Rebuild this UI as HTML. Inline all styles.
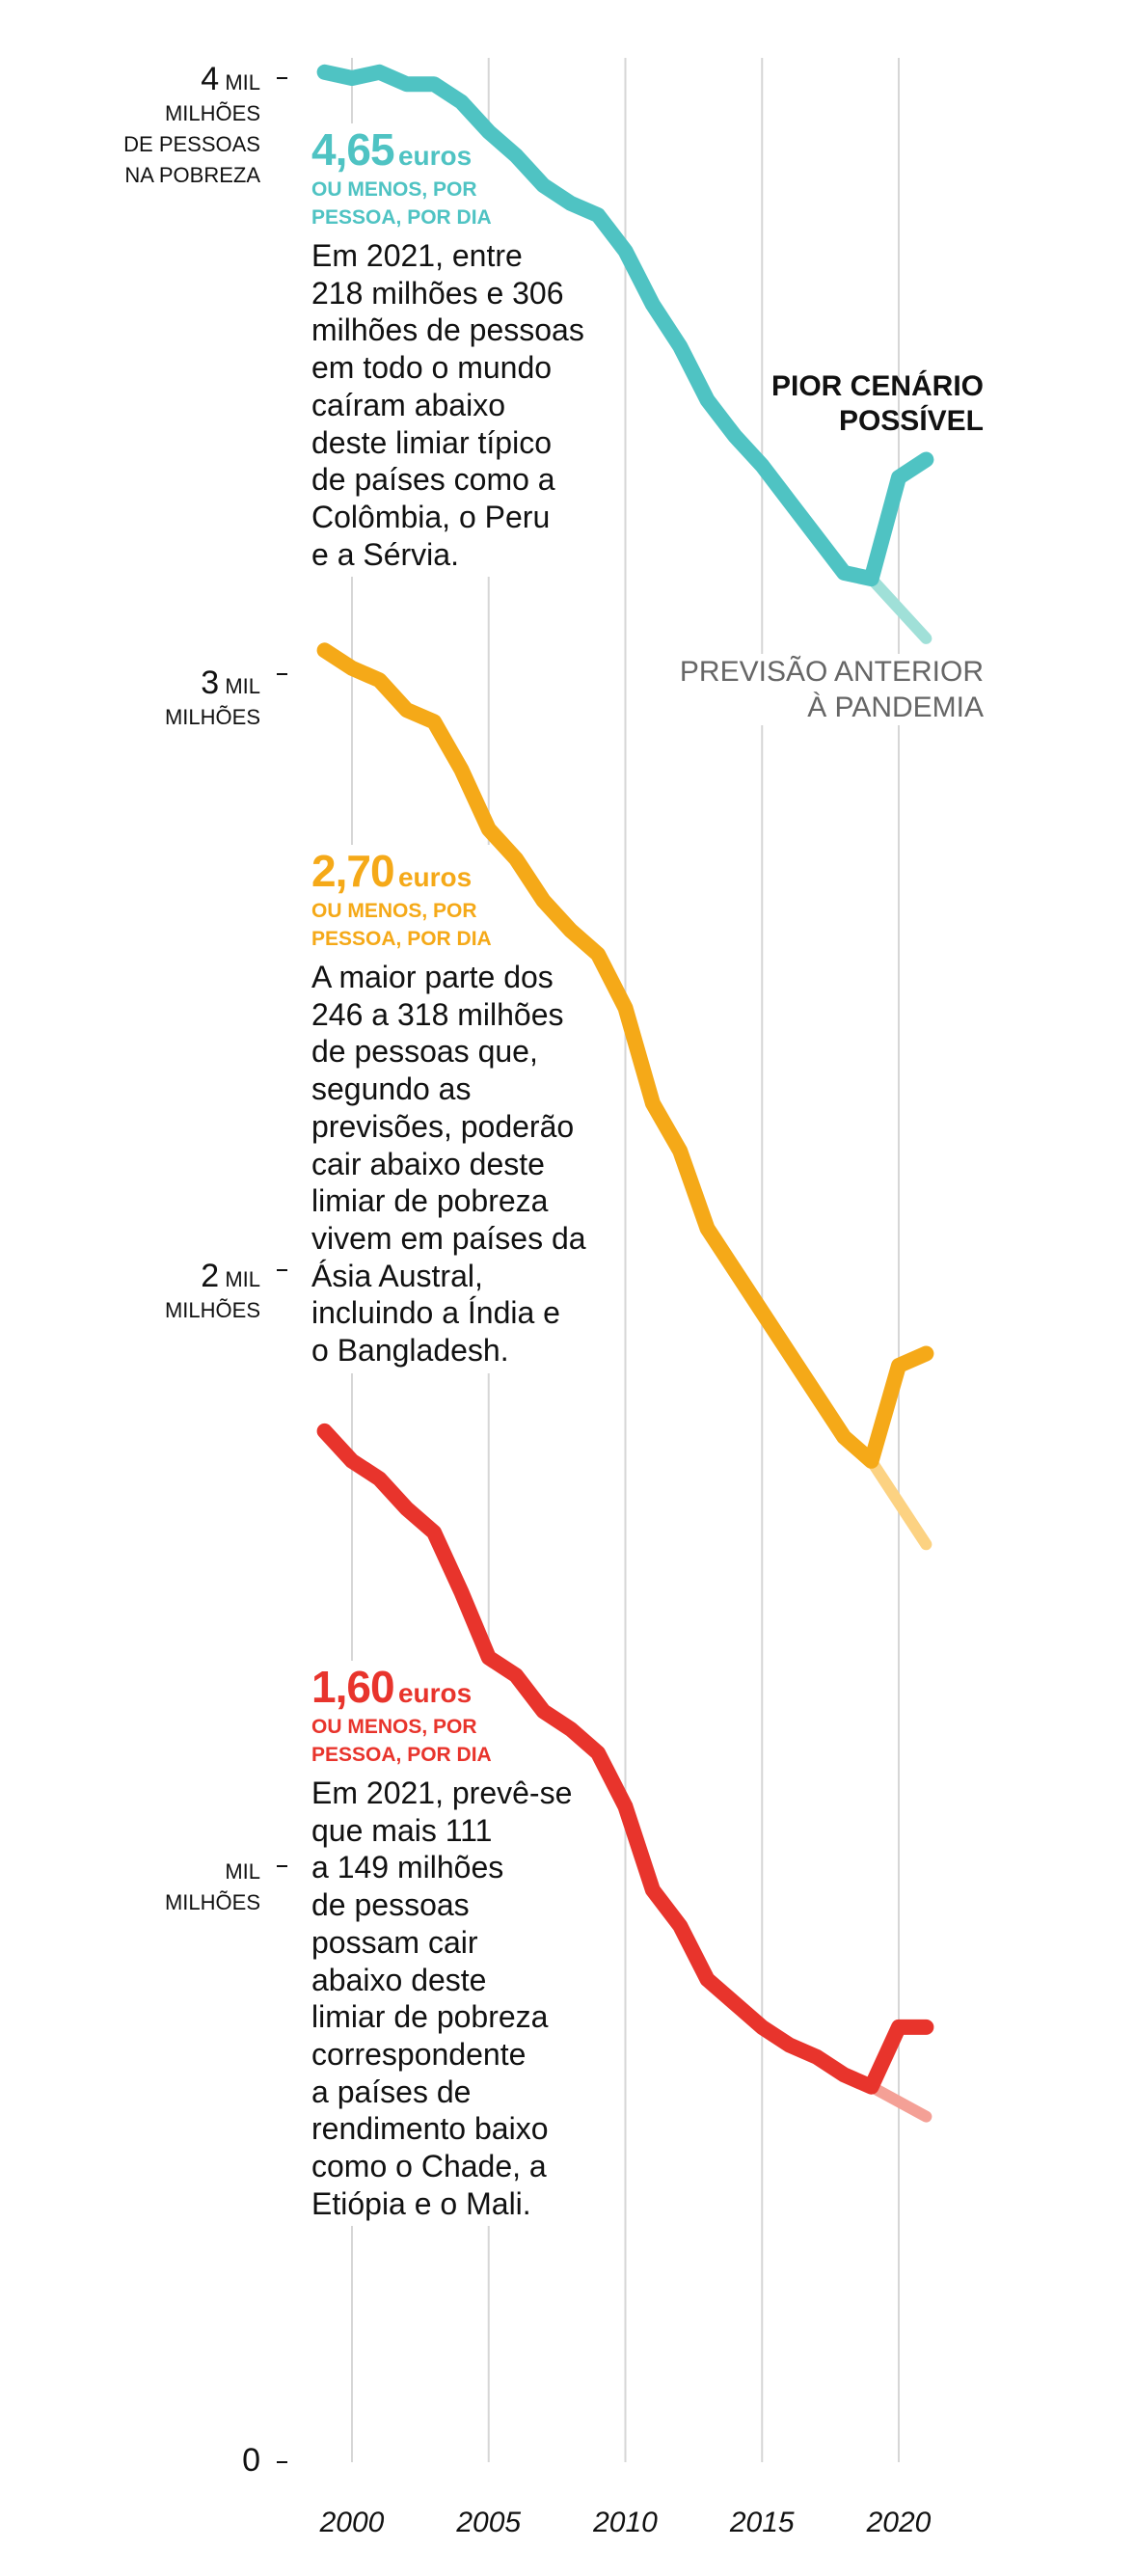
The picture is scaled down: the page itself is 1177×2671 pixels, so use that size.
<!DOCTYPE html>
<html><head><meta charset="utf-8">
<style>
body{margin:0;background:#fff;}
#wrap{position:relative;width:1177px;height:2671px;overflow:hidden;background:#fff;font-family:"Liberation Sans",sans-serif;}
svg{position:absolute;left:0;top:0;}
.blk{position:absolute;left:323px;background:#fff;padding:0 6px 4px 0;}
.big{font-weight:bold;font-size:46px;letter-spacing:-1px;}
.eur{font-weight:bold;font-size:28px;}
.sub{font-weight:bold;font-size:21px;line-height:29px;}
.body{font-size:32px;line-height:38.7px;color:#111;margin-top:6px;}
.yl{position:absolute;right:907px;text-align:right;font-size:22px;line-height:32px;color:#111;}
.yl b{font-weight:normal;font-size:34px;}
</style></head><body>
<div id="wrap">
<svg id="grid" width="1177" height="2671"></svg>

<div class="blk" style="top:128px;color:#4fc3c3">
<div><span class="big">4,65</span> <span class="eur">euros</span></div>
<div class="sub">OU MENOS, POR<br>PESSOA, POR DIA</div>
<div class="body">Em 2021, entre<br>218 milhões e 306<br>milhões de pessoas<br>em todo o mundo<br>caíram abaixo<br>deste limiar típico<br>de países como a<br>Colômbia, o Peru<br>e a Sérvia.</div>
</div>
<div class="blk" style="top:876px;color:#f5a918">
<div><span class="big">2,70</span> <span class="eur">euros</span></div>
<div class="sub">OU MENOS, POR<br>PESSOA, POR DIA</div>
<div class="body">A maior parte dos<br>246 a 318 milhões<br>de pessoas que,<br>segundo as<br>previsões, poderão<br>cair abaixo deste<br>limiar de pobreza<br>vivem em países da<br>Ásia Austral,<br>incluindo a Índia e<br>o Bangladesh.</div>
</div>
<div class="blk" style="top:1722px;color:#e8342c">
<div><span class="big">1,60</span> <span class="eur">euros</span></div>
<div class="sub">OU MENOS, POR<br>PESSOA, POR DIA</div>
<div class="body">Em 2021, prevê-se<br>que mais 111<br>a 149 milhões<br>de pessoas<br>possam cair<br>abaixo deste<br>limiar de pobreza<br>correspondente<br>a países de<br>rendimento baixo<br>como o Chade, a<br>Etiópia e o Mali.</div>
</div>

<div class="yl" style="top:66px"><b>4</b> MIL<br>MILHÕES<br>DE PESSOAS<br>NA POBREZA</div>
<div class="yl" style="top:692px"><b>3</b> MIL<br>MILHÕES</div>
<div class="yl" style="top:1307px"><b>2</b> MIL<br>MILHÕES</div>
<div class="yl" style="top:1925px">MIL<br>MILHÕES</div>
<div class="yl" style="top:2535px"><b>0</b></div>

<div style="position:absolute;right:157px;top:383px;text-align:right;font-weight:bold;font-size:30px;line-height:36px;color:#111">PIOR CENÁRIO<br>POSSÍVEL</div>
<div style="position:absolute;right:157px;top:678px;text-align:right;font-size:30px;line-height:37px;color:#666;background:#fff">PREVISÃO ANTERIOR<br>À PANDEMIA</div>

<svg id="plot" width="1177" height="2671"></svg>
</div>
<script>
const years=[1999,2000,2001,2002,2003,2004,2005,2006,2007,2008,2009,2010,2011,2012,2013,2014,2015,2016,2017,2018,2019,2020,2021];
const teal=[4.01,4.00,4.01,3.99,3.99,3.96,3.91,3.87,3.82,3.79,3.77,3.71,3.62,3.55,3.46,3.40,3.35,3.29,3.23,3.17,3.16,3.33,3.36];
const orange=[3.04,3.01,2.99,2.94,2.92,2.84,2.74,2.69,2.62,2.57,2.53,2.44,2.28,2.20,2.07,2.00,1.93,1.86,1.79,1.72,1.68,1.84,1.86];
const red=[1.73,1.68,1.65,1.60,1.56,1.46,1.35,1.32,1.26,1.23,1.19,1.10,0.96,0.90,0.81,0.77,0.73,0.70,0.68,0.65,0.63,0.73,0.73];
const forecastYears=[2019,2021];
const tealForecast=[3.16,3.06];
const orangeForecast=[1.68,1.54];
const redForecast=[0.63,0.58];
const yTicks=[0,1,2,3,4];
const xTicks=[2000,2005,2010,2015,2020];

const X=y=>365+(y-2000)*28.35;
const Y=v=>2553-618*v;
const NS="http://www.w3.org/2000/svg";
const grid=document.getElementById('grid');
const plot=document.getElementById('plot');
function mk(p,t,a){const e=document.createElementNS(NS,t);for(const k in a)e.setAttribute(k,a[k]);p.appendChild(e);return e;}

xTicks.forEach(t=>{
  const l=mk(grid,'line',{x1:X(t),x2:X(t),y1:60,y2:2553,stroke:'#d6d6d6','stroke-width':2});
  
  
  const tx=mk(plot,'text',{x:X(t),y:2625,'text-anchor':'middle','font-size':30,'font-style':'italic','font-family':'Liberation Sans, sans-serif',fill:'#111'});
  tx.textContent=t;
  
  
});
yTicks.forEach(v=>{
  const l=mk(plot,'line',{x1:287,x2:298,y1:Y(v),y2:Y(v),stroke:'#111','stroke-width':2});
  
  
});
function series(xs,vals,col,w,name){
  const d=xs.map((x,i)=>(i?'L':'M')+X(x).toFixed(1)+' '+Y(vals[i]).toFixed(1)).join(' ');
  const p=mk(plot,'path',{d:d,fill:'none',stroke:col,'stroke-width':w,'stroke-linejoin':'round','stroke-linecap':'round'});
  
  
}
series(forecastYears,tealForecast,'#a0e0d8',12,'teal-forecast-line');
series(forecastYears,orangeForecast,'#fcd282',12,'orange-forecast-line');
series(forecastYears,redForecast,'#f4a096',12,'red-forecast-line');
series(years,teal,'#4fc3c3',16,'teal-line');
series(years,orange,'#f5a918',16,'orange-line');
series(years,red,'#e8342c',16,'red-line');
</script>
</body></html>
